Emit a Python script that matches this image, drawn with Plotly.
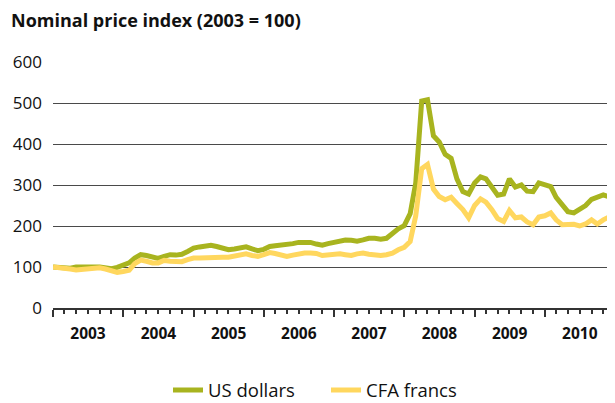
import pandas as pd
import plotly.graph_objects as go

# Monthly index values, Jan 2003 - Dec 2010 (2003 = 100)
months = pd.date_range("2003-01-01", periods=96, freq="MS")

usd = [
    100, 99, 98, 97, 100, 99, 98, 100, 100, 98, 96, 99,        # 2003
    104, 110, 122, 130, 128, 124, 121, 126, 130, 129, 131, 138,  # 2004
    146, 149, 151, 153, 150, 147, 142, 144, 147, 149, 144, 140,  # 2005
    143, 150, 152, 153, 155, 157, 160, 161, 160, 156, 153, 157,  # 2006
    160, 163, 166, 165, 163, 166, 170, 170, 168, 170, 182, 193,  # 2007
    201, 230, 305, 505, 508, 420, 405, 375, 365, 315, 284, 278,  # 2008
    305, 320, 315, 295, 275, 278, 315, 295, 300, 285, 284, 305,  # 2009
    302, 296, 270, 250, 235, 232, 240, 250, 265, 270, 276, 271,  # 2010
]

cfa = [
    100, 99, 97, 95, 93, 95, 96, 97, 98, 95, 92, 87,             # 2003
    89, 92, 108, 117, 114, 110, 110, 116, 114, 112, 113, 118,    # 2004
    122, 122, 123, 124, 125, 124, 124, 126, 129, 132, 128, 126,  # 2005
    130, 135, 133, 130, 126, 129, 133, 134, 134, 133, 128, 130,  # 2006
    131, 132, 130, 128, 132, 134, 131, 129, 128, 130, 134, 142,  # 2007
    148, 162, 225, 340, 350, 290, 272, 264, 270, 255, 240, 220,  # 2008
    250, 266, 258, 240, 218, 211, 238, 220, 222, 210, 203, 222,  # 2009
    225, 232, 215, 203, 203, 204, 200, 205, 215, 205, 215, 222,  # 2010
]

years = list(range(2003, 2011))
year_labels = [str(y) for y in years]
y_ticks = [0, 100, 200, 300, 400, 500, 600]

GREEN = "#A8B41F"
YELLOW = "#FFD75E"
FONT = "Open Sans"
INK = "#111111"
AXIS = "#333333"

# page body has an 8px margin, so the figure is sized to fill the rest
W, H = 607, 395

fig = go.Figure()
fig.add_trace(go.Scatter(x=months, y=usd, mode="lines", name="US dollars",
                         line=dict(color=GREEN, width=5)))
fig.add_trace(go.Scatter(x=months, y=cfa, mode="lines", name="CFA francs",
                         line=dict(color=YELLOW, width=5)))

boundaries = [f"{y}-01-01" for y in years + [2011]]
mids = [f"{y}-07-02" for y in years]

fig.update_layout(
    width=W, height=H,
    margin=dict(l=45, r=0, t=54, b=95, autoexpand=False),
    plot_bgcolor="white", paper_bgcolor="white",
    font=dict(family=FONT, size=16, color=INK),
    title=dict(text="<b>Nominal price index (2003 = 100)</b>",
               x=3 / W, xref="container", xanchor="left",
               y=1 - 13 / H, yref="container", yanchor="middle",
               font=dict(family=FONT, size=18, color=INK)),
    xaxis=dict(type="date", range=["2003-01-01", "2011-01-01"],
               tickvals=boundaries, showticklabels=False,
               ticks="outside", ticklen=7, tickwidth=2, tickcolor=AXIS,
               minor=dict(dtick="M2", tick0="2003-01-01", ticks="outside",
                          ticklen=4, tickwidth=2, tickcolor=AXIS, showgrid=False),
               showgrid=False, showline=True, linecolor=AXIS, linewidth=2,
               zeroline=False, fixedrange=True),
    xaxis2=dict(type="date", range=["2003-01-01", "2011-01-01"],
                overlaying="x", anchor="y", side="bottom",
                tickvals=mids, ticktext=year_labels, ticks="", tickangle=0,
                tickfont=dict(family=FONT, size=15.5, color=INK, weight="bold"),
                ticklabelstandoff=14, showgrid=False, showline=False, zeroline=False),
    yaxis=dict(range=[0, 600], tickvals=y_ticks, showgrid=True,
               gridcolor="#4a4a4a", gridwidth=1.2, zeroline=False,
               tickfont=dict(family=FONT, size=17, color=INK),
               ticklabelstandoff=10, fixedrange=True),
    legend=dict(orientation="h", x=(168 - 53) / 562, xanchor="left",
                y=-0.335, yanchor="middle", entrywidth=113,
                font=dict(family=FONT, size=18.5, color=INK),
                bgcolor="rgba(0,0,0,0)"),
    showlegend=True,
)

# invisible helper trace so the year-label axis is rendered
fig.add_trace(go.Scatter(x=[months[0]], y=[None], xaxis="x2", showlegend=False,
                         hoverinfo="skip"))

fig.write_html("out.html")
